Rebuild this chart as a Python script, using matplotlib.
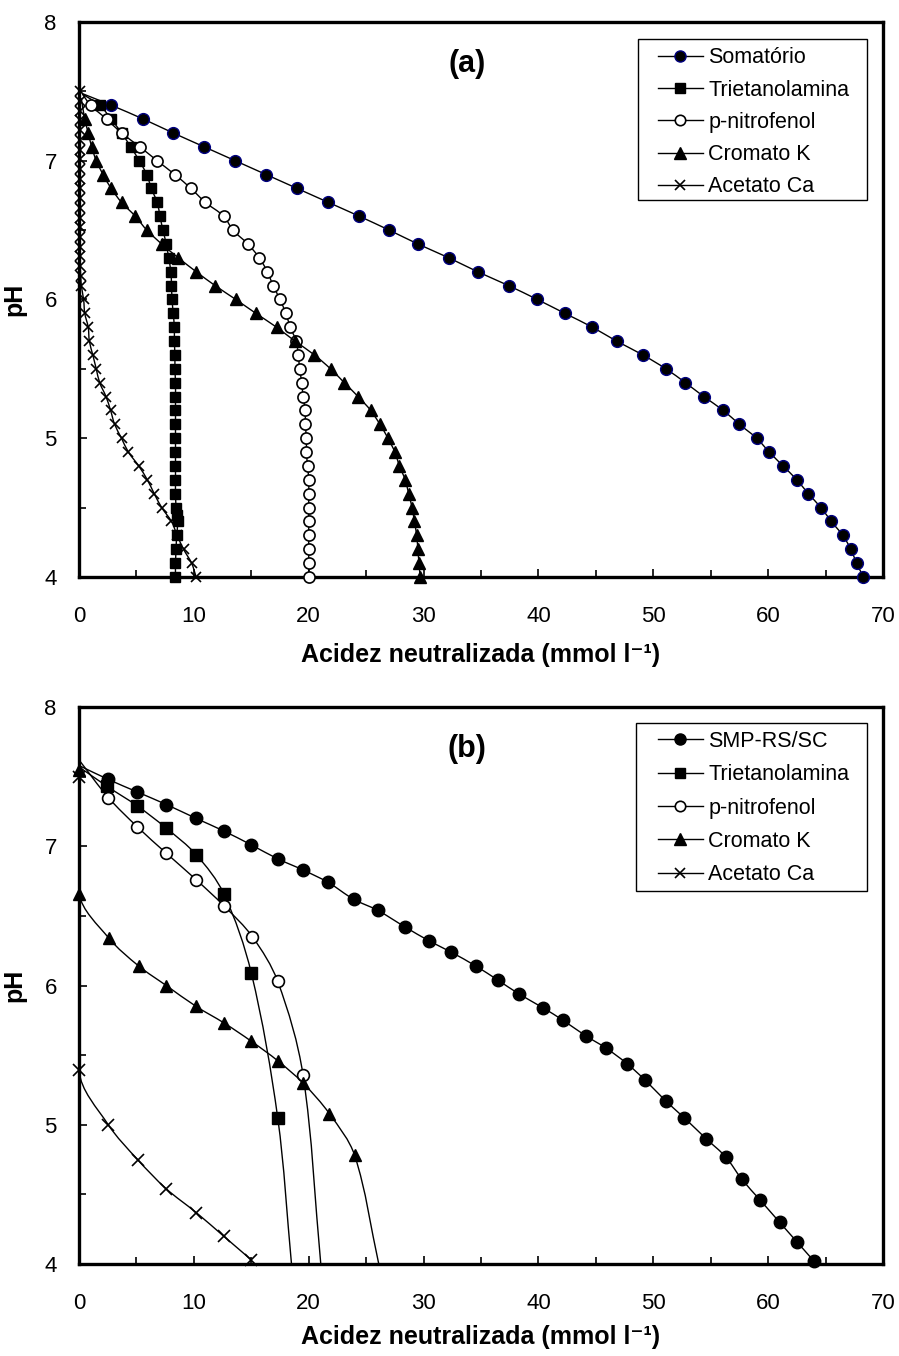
import numpy as np
import matplotlib
matplotlib.use("Agg")
import matplotlib.pyplot as plt
from matplotlib.path import Path
from matplotlib.patches import PathPatch, Rectangle
from matplotlib.lines import Line2D
from matplotlib.ticker import MultipleLocator

plt.rcParams['font.family'] = ['Liberation Sans', 'DejaVu Sans']

# ---------------- Panel (a) data ----------------
a_som_x = [0.4, 2.8, 5.6, 8.2, 10.9, 13.6, 16.3, 19.0, 21.7, 24.4, 27.0, 29.5, 32.2, 34.7, 37.4, 39.9,
           42.3, 44.7, 46.8, 49.1, 51.1, 52.8, 54.4, 56.1, 57.5, 59.0, 60.1, 61.3, 62.5, 63.5, 64.6,
           65.5, 66.5, 67.2, 67.7, 68.3]
a_som_y = [7.48, 7.4, 7.3, 7.2, 7.1, 7.0, 6.9, 6.8, 6.7, 6.6, 6.5, 6.4, 6.3, 6.2, 6.1, 6.0,
           5.9, 5.8, 5.7, 5.6, 5.5, 5.4, 5.3, 5.2, 5.1, 5.0, 4.9, 4.8, 4.7, 4.6, 4.5,
           4.4, 4.3, 4.2, 4.1, 4.0]

a_tri_x = [0.3, 1.8, 2.8, 3.7, 4.5, 5.25, 5.9, 6.3, 6.8, 7.05, 7.3, 7.6, 7.8, 8.0, 8.05, 8.1, 8.2, 8.3,
           8.3, 8.35, 8.35, 8.4, 8.4, 8.4, 8.4, 8.4, 8.4, 8.4, 8.4, 8.4, 8.45, 8.5, 8.6, 8.5, 8.45, 8.4, 8.4]
a_tri_y = [7.48, 7.4, 7.3, 7.2, 7.1, 7.0, 6.9, 6.8, 6.7, 6.6, 6.5, 6.4, 6.3, 6.2, 6.1, 6.0, 5.9, 5.8,
           5.7, 5.6, 5.5, 5.4, 5.3, 5.2, 5.1, 5.0, 4.9, 4.8, 4.7, 4.6, 4.5, 4.45, 4.4, 4.3, 4.2, 4.1, 4.0]

a_pnf_x = [0.3, 1.0, 2.4, 3.7, 5.3, 6.8, 8.35, 9.75, 11.0, 12.6, 13.4, 14.7, 15.7, 16.4, 16.9, 17.5,
           18.0, 18.4, 18.9, 19.1, 19.2, 19.4, 19.5, 19.7, 19.7, 19.8, 19.8, 19.9, 20.0, 20.0, 20.0,
           20.0, 20.0, 20.0, 20.0, 20.0]
a_pnf_y = [7.48, 7.4, 7.3, 7.2, 7.1, 7.0, 6.9, 6.8, 6.7, 6.6, 6.5, 6.4, 6.3, 6.2, 6.1, 6.0,
           5.9, 5.8, 5.7, 5.6, 5.5, 5.4, 5.3, 5.2, 5.1, 5.0, 4.9, 4.8, 4.7, 4.6, 4.5,
           4.4, 4.3, 4.2, 4.1, 4.0]

a_crk_x = [0.2, 0.5, 0.8, 1.1, 1.5, 2.1, 2.8, 3.7, 4.9, 5.9, 7.2, 8.65, 10.2, 11.85, 13.65, 15.4,
           17.2, 18.8, 20.5, 21.9, 23.1, 24.3, 25.4, 26.2, 26.9, 27.5, 27.9, 28.4, 28.7, 29.0,
           29.2, 29.4, 29.5, 29.6, 29.7]
a_crk_y = [7.45, 7.3, 7.2, 7.1, 7.0, 6.9, 6.8, 6.7, 6.6, 6.5, 6.4, 6.3, 6.2, 6.1, 6.0, 5.9,
           5.8, 5.7, 5.6, 5.5, 5.4, 5.3, 5.2, 5.1, 5.0, 4.9, 4.8, 4.7, 4.6, 4.5,
           4.4, 4.3, 4.2, 4.1, 4.0]

a_aca_x = [0.05, 0.05, 0.05, 0.05, 0.05, 0.05, 0.05, 0.05, 0.05, 0.05, 0.05, 0.05, 0.05, 0.05,
           0.05, 0.08, 0.08, 0.1, 0.1, 0.15, 0.2, 0.4, 0.5, 0.8, 0.9, 1.2, 1.5, 1.8, 2.35, 2.75,
           3.1, 3.7, 4.3, 5.2, 5.95, 6.55, 7.2, 8.05, 8.55, 9.1, 9.8, 10.2]
a_aca_y = [7.5, 7.43, 7.36, 7.29, 7.22, 7.15, 7.08, 7.01, 6.94, 6.87, 6.8, 6.73, 6.66, 6.59,
           6.52, 6.45, 6.38, 6.31, 6.24, 6.17, 6.1, 6.0, 5.9, 5.8, 5.7, 5.6, 5.5, 5.4, 5.3, 5.2,
           5.1, 5.0, 4.9, 4.8, 4.7, 4.6, 4.5, 4.4, 4.3, 4.2, 4.1, 4.0]

# ---------------- Panel (b) data ----------------
b_smp_x = [0.0, 2.55, 5.07, 7.6, 10.2, 12.6, 15.0, 17.3, 19.5, 21.7, 23.9, 26.0, 28.4, 30.5, 32.4,
           34.55, 36.45, 38.3, 40.4, 42.15, 44.1, 45.9, 47.7, 49.3, 51.1, 52.7, 54.6, 56.3, 57.7,
           59.3, 61.0, 62.5, 64.0]
b_smp_y = [7.58, 7.48, 7.39, 7.30, 7.20, 7.11, 7.01, 6.91, 6.83, 6.74, 6.62, 6.54, 6.42, 6.32, 6.24,
           6.14, 6.04, 5.94, 5.84, 5.75, 5.64, 5.55, 5.44, 5.32, 5.17, 5.05, 4.90, 4.77, 4.61,
           4.46, 4.30, 4.16, 4.02]

b_tri_x = [0.0, 2.45, 5.07, 7.6, 10.2, 12.6, 15.0, 17.3, 18.5]
b_tri_y = [7.57, 7.43, 7.29, 7.13, 6.94, 6.66, 6.09, 5.05, 4.0]

b_pnf_x = [0.0, 2.55, 5.07, 7.6, 10.2, 12.65, 15.1, 17.3, 19.5, 21.05]
b_pnf_y = [7.62, 7.35, 7.14, 6.95, 6.76, 6.57, 6.35, 6.03, 5.36, 4.0]

b_crk_x = [0.0, 0.0, 2.6, 5.2, 7.6, 10.2, 12.65, 15.0, 17.3, 19.5, 21.8, 24.0, 26.1]
b_crk_y = [7.55, 6.66, 6.34, 6.14, 6.0, 5.85, 5.73, 5.60, 5.46, 5.30, 5.08, 4.78, 4.0]

b_aca_x = [0.0, 0.0, 2.55, 5.1, 7.6, 10.2, 12.6, 15.0]
b_aca_y = [7.5, 5.39, 5.0, 4.75, 4.54, 4.37, 4.20, 4.03]

labels_a = ['Somatório', 'Trietanolamina', 'p-nitrofenol', 'Cromato K', 'Acetato Ca']
labels_b = ['SMP-RS/SC', 'Trietanolamina', 'p-nitrofenol', 'Cromato K', 'Acetato Ca']
xticks = [0, 10, 20, 30, 40, 50, 60, 70]
yticks = [4, 5, 6, 7, 8]
panel_tags = ['(a)', '(b)']
xlabel_text = 'Acidez neutralizada (mmol l\u207b\u00b9)'

SX = 804.0 / 70.0   # pixels per x unit (for smoothing weights only)
SY = 556.0 / 4.0    # pixels per pH unit


def smooth_path(x, y):
    pts = np.column_stack([np.asarray(x, float), np.asarray(y, float)])
    n = len(pts)
    scale = np.array([SX, SY])

    def dist(a, b):
        return np.hypot(*((a - b) * scale))

    verts = [pts[0]]
    codes = [Path.MOVETO]
    for i in range(n - 1):
        p0 = pts[i - 1] if i > 0 else pts[i]
        p1 = pts[i]
        p2 = pts[i + 1]
        p3 = pts[i + 2] if i + 2 < n else pts[i + 1]
        d01, d12, d23 = dist(p0, p1), dist(p1, p2), dist(p2, p3)
        if d01 + d12 > 0:
            c1 = p1 + (p2 - p0) * d12 / (d01 + d12) / 3.0
        else:
            c1 = p1
        if d12 + d23 > 0:
            c2 = p2 - (p3 - p1) * d12 / (d12 + d23) / 3.0
        else:
            c2 = p2
        verts += [c1, c2, p2]
        codes += [Path.CURVE4] * 3
    return Path(verts, codes)


fig = plt.figure(figsize=(8.99, 13.56), dpi=100)
ax_a = fig.add_axes([0.0879, 0.5745, 0.8943, 0.4093])
ax_b = fig.add_axes([0.0879, 0.0678, 0.8943, 0.4108])

styles_a = [
    dict(marker='o', mfc='black', mec='#000080', ms=8.5, mew=1.0),
    dict(marker='s', mfc='black', mec='black', ms=6.5, mew=1.0),
    dict(marker='o', mfc='white', mec='black', ms=8.0, mew=1.2),
    dict(marker='^', mfc='black', mec='black', ms=8.0, mew=1.0),
    dict(marker='x', mfc='none', mec='black', ms=7.5, mew=1.2),
]
styles_b = [
    dict(marker='o', mfc='black', mec='black', ms=9.0, mew=1.0),
    dict(marker='s', mfc='black', mec='black', ms=8.5, mew=1.0),
    dict(marker='o', mfc='white', mec='black', ms=8.5, mew=1.2),
    dict(marker='^', mfc='black', mec='black', ms=9.0, mew=1.0),
    dict(marker='x', mfc='none', mec='black', ms=8.0, mew=1.2),
]
legend_styles = [
    [dict(marker='o', mfc='black', mec='#000080', ms=8.0, mew=1.0),
     dict(marker='s', mfc='black', mec='black', ms=7.0, mew=1.0),
     dict(marker='o', mfc='white', mec='black', ms=7.5, mew=1.2),
     dict(marker='^', mfc='black', mec='black', ms=8.0, mew=1.0),
     dict(marker='x', mfc='none', mec='black', ms=7.5, mew=1.2)],
    [dict(marker='o', mfc='black', mec='black', ms=8.0, mew=1.0),
     dict(marker='s', mfc='black', mec='black', ms=7.0, mew=1.0),
     dict(marker='o', mfc='white', mec='black', ms=7.5, mew=1.2),
     dict(marker='^', mfc='black', mec='black', ms=8.0, mew=1.0),
     dict(marker='x', mfc='none', mec='black', ms=7.5, mew=1.2)],
]

series_a = [(a_som_x, a_som_y, 1, None), (a_tri_x, a_tri_y, 1, None), (a_pnf_x, a_pnf_y, 1, None),
            (a_crk_x, a_crk_y, 1, None), (a_aca_x, a_aca_y, 0, None)]
series_b = [(b_smp_x, b_smp_y, 1, None), (b_tri_x, b_tri_y, 1, -1), (b_pnf_x, b_pnf_y, 1, -1),
            (b_crk_x, b_crk_y, 0, -1), (b_aca_x, b_aca_y, 0, None)]

# layout per panel: legend frame (x0, y0, x1, y1 in axes fraction), legend anchor, labelspacing, xlabel y
panel_layout = [
    dict(frame=(0.695, 0.679, 0.980, 0.969), anchor=(0.720, 0.954), lsp=0.52, xlab=-0.119),
    dict(frame=(0.693, 0.670, 0.980, 0.971), anchor=(0.720, 0.957), lsp=0.57, xlab=-0.110),
]

for idx, (ax, series, styles, labels, tag) in enumerate(
        [(ax_a, series_a, styles_a, labels_a, panel_tags[0]),
         (ax_b, series_b, styles_b, labels_b, panel_tags[1])]):
    lay = panel_layout[idx]
    ax.set_xlim(0, 70)
    ax.set_ylim(4, 8)
    handles = []
    for k, ((xs, ys, m0, m1), st, lst, lab) in enumerate(zip(series, styles, legend_styles[idx], labels)):
        path = smooth_path(xs, ys)
        ax.add_patch(PathPatch(path, facecolor='none', edgecolor='black', lw=1.0, zorder=2 + k))
        xm = xs[m0:m1] if m1 is not None else xs[m0:]
        ym = ys[m0:m1] if m1 is not None else ys[m0:]
        ax.plot(xm, ym, ls='none', clip_on=False, zorder=3 + k, **st)
        handles.append(Line2D([], [], color='black', lw=1.0, label=lab, **lst))
    fx0, fy0, fx1, fy1 = lay['frame']
    ax.add_patch(Rectangle((fx0, fy0), fx1 - fx0, fy1 - fy0, transform=ax.transAxes,
                           facecolor='white', edgecolor='black', lw=1.0, zorder=19))
    leg = ax.legend(handles=handles, loc='upper left', bbox_to_anchor=lay['anchor'],
                    borderaxespad=0, borderpad=0, fontsize=15.5, frameon=False,
                    handlelength=2.1, handletextpad=0.25, labelspacing=lay['lsp'])
    leg.set_zorder(20)
    ax.text(33.8, 7.70, tag, ha='center', va='center', fontsize=22, fontweight='bold')

    ax.xaxis.set_major_locator(MultipleLocator(10))
    ax.xaxis.set_minor_locator(MultipleLocator(5))
    ax.yaxis.set_major_locator(MultipleLocator(1))
    ax.yaxis.set_minor_locator(MultipleLocator(0.5))
    ax.set_xticks(xticks)
    ax.set_yticks(yticks)
    ax.tick_params(axis='both', which='both', direction='in', width=1.2)
    ax.tick_params(axis='both', which='major', length=6, labelsize=16)
    ax.tick_params(axis='both', which='minor', length=5)
    ax.tick_params(axis='x', which='major', pad=21)
    ax.tick_params(axis='y', which='major', pad=16)
    for s in ax.spines.values():
        s.set_linewidth(2.4)
    ax.set_xlabel(xlabel_text, fontsize=18, fontweight='bold')
    ax.set_ylabel('pH', fontsize=18, fontweight='bold')
    ax.xaxis.set_label_coords(0.5, lay['xlab'])
    ax.yaxis.set_label_coords(-0.066, 0.5)

fig.savefig('out.png', dpi=100)
